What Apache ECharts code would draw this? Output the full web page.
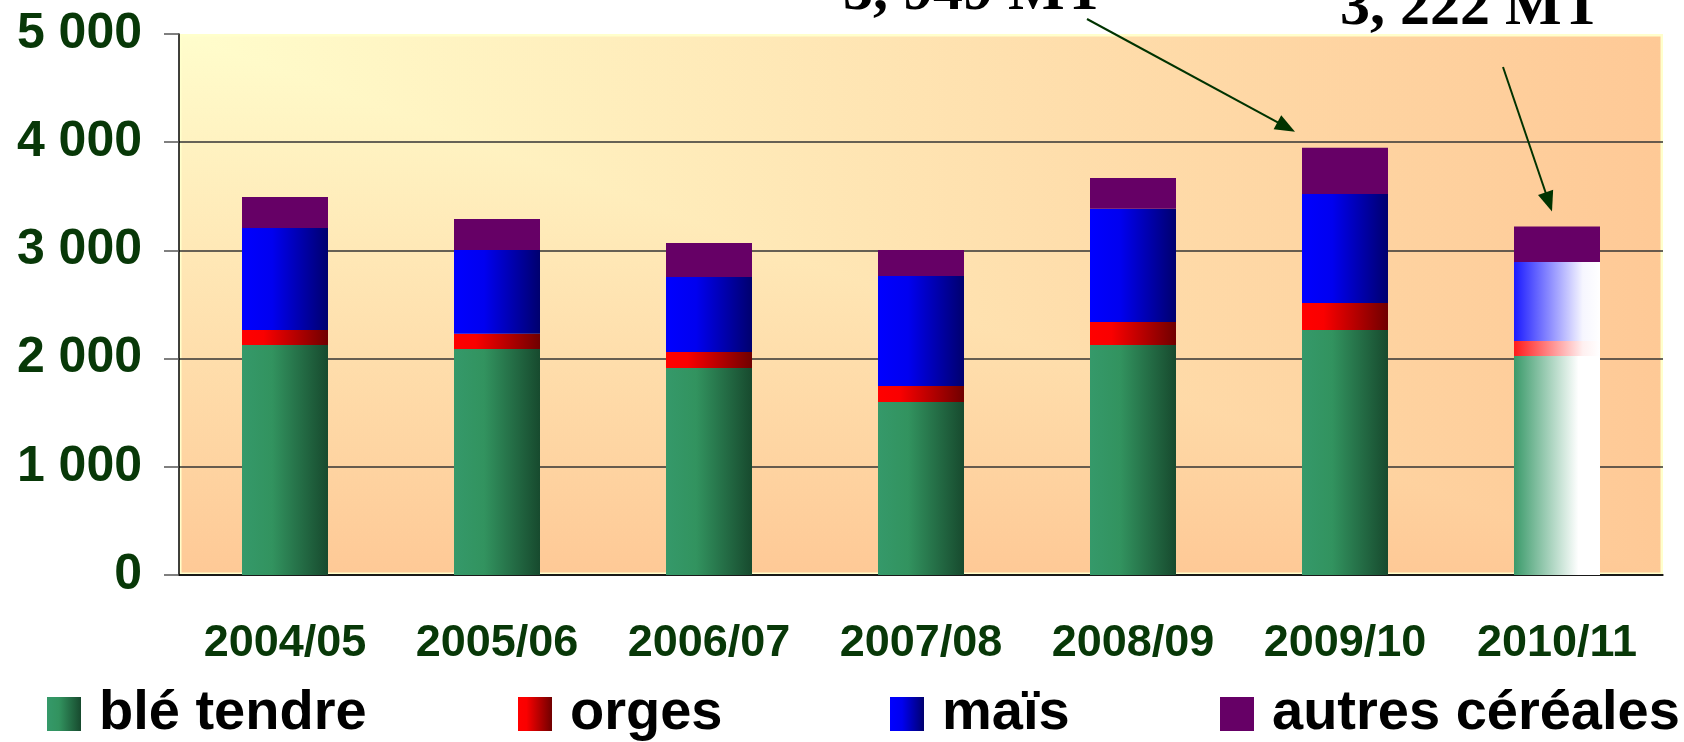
<!DOCTYPE html>
<html>
<head>
<meta charset="utf-8">
<title>Production de céréales</title>
<script src="https://cdn.jsdelivr.net/npm/echarts/dist/echarts.min.js"></script>
<style>
  html, body { margin: 0; padding: 0; background: #fff; }
  #main { width: 1684px; height: 742px; }
</style>
</head>
<body>
<div id="main"></div>
<script>
// campagnes (axe x)
const campagnes = ["2004/05", "2005/06", "2006/07", "2007/08", "2008/09", "2009/10", "2010/11"];
// production par céréale, en milliers de tonnes
const bleTendre = [2126, 2089, 1913, 1599, 2126, 2264, 2024];
const orges = [138, 141, 148, 148, 212, 250, 139];
const mais = [943, 774, 693, 1016, 1048, 1007, 730];
const autresCereales = [287, 286, 314, 241, 283, 428, 329];
// graduations de l'axe y
const yTicks = [0, 1000, 2000, 3000, 4000, 5000];
// annotations en haut du graphique
const noteTextes = ["3, 949 MT", "3, 222 MT"];
const noteIndex = [5, 6];

const chartDom = document.getElementById("main");
const chart = echarts.init(chartDom, null, { renderer: "canvas" });

// zone de tracé
const G = { left: 179, top: 34, width: 1484, height: 541 };

// dégradé "rectangulaire" du fond (jaune en haut à gauche, pêche ailleurs)
function fondDegrade(w, h) {
  const c = document.createElement("canvas");
  c.width = w;
  c.height = h;
  const ctx = c.getContext("2d");
  const c0 = "#FFFDCC", c1 = "#FEC996";
  // tout le rectangle : dégradé horizontal
  let g = ctx.createLinearGradient(0, 0, w, 0);
  g.addColorStop(0, c0);
  g.addColorStop(1, c1);
  ctx.fillStyle = g;
  ctx.fillRect(0, 0, w, h);
  // triangle bas-gauche : dégradé vertical par-dessus
  g = ctx.createLinearGradient(0, 0, 0, h);
  g.addColorStop(0, c0);
  g.addColorStop(1, c1);
  ctx.save();
  ctx.beginPath();
  ctx.moveTo(0, 0); ctx.lineTo(0, h); ctx.lineTo(w, h); ctx.closePath();
  ctx.clip();
  ctx.fillStyle = g;
  ctx.fillRect(0, 0, w, h);
  ctx.restore();
  // liseré clair
  ctx.strokeStyle = "#FFFFCC";
  ctx.lineWidth = 5;
  ctx.strokeRect(0, 0, w, h);
  return c;
}

function degrade(stops) {
  return new echarts.graphic.LinearGradient(0, 0, 1, 0,
    stops.map((s) => ({ offset: s[0], color: s[1] })));
}

const couleurs = [
  degrade([[0, "#35996A"], [0.35, "#32935F"], [1, "#174A2E"]]),
  degrade([[0, "#FF0000"], [0.25, "#FA0000"], [1, "#700000"]]),
  degrade([[0, "#0000FF"], [0.35, "#0000F0"], [1, "#00006E"]]),
  "#660066",
];
// dernière campagne (estimation) : estompée vers le blanc
const couleursEstim = [
  degrade([[0, "#3A9A6A"], [0.75, "#FFFFFF"], [1, "#FFFFFF"]]),
  degrade([[0, "#FF1A1A"], [0.8, "#FFF0F0"], [1, "#FFFFFF"]]),
  degrade([[0, "#1A1AFF"], [0.8, "#F6F6FF"], [1, "#FFFFFF"]]),
  "#660066",
];

const noms = ["blé tendre", "orges", "maïs", "autres céréales"];
const valeurs = [bleTendre, orges, mais, autresCereales];
const legendLeft = [47, 518, 890, 1220];

const series = noms.map((nom, k) => ({
  name: nom,
  type: "bar",
  stack: "total",
  barWidth: 86,
  itemStyle: { color: couleurs[k] },
  emphasis: { disabled: true },
  data: valeurs[k].map((v, i) =>
    i === campagnes.length - 1 ? { value: v, itemStyle: { color: couleursEstim[k] } } : v
  ),
}));

const legends = noms.map((nom, k) => ({
  data: [nom],
  left: legendLeft[k],
  top: 686,
  padding: 0,
  icon: "rect",
  itemWidth: 34,
  itemHeight: 34,
  selectedMode: false,
  textStyle: {
    fontFamily: "Liberation Sans, Arial, sans-serif",
    fontWeight: "bold",
    fontSize: 56,
    lineHeight: 56,
    color: "#000",
    padding: [0, 0, 0, 13],
  },
}));

const option = {
  animation: false,
  backgroundColor: "#fff",
  grid: {
    left: G.left,
    top: G.top,
    width: G.width,
    height: G.height,
  },
  legend: legends,
  xAxis: {
    type: "category",
    data: campagnes,
    axisLine: { lineStyle: { color: "#000", width: 1.5 } },
    axisTick: { length: 16, lineStyle: { color: "#555", width: 1.5 } },
    axisLabel: {
      margin: 46,
      fontFamily: "Liberation Sans, Arial, sans-serif",
      fontWeight: "bold",
      fontSize: 45,
      lineHeight: 45,
      color: "#083808",
    },
  },
  yAxis: {
    type: "value",
    min: yTicks[0],
    max: yTicks[yTicks.length - 1],
    interval: yTicks[1] - yTicks[0],
    axisLine: { show: true, lineStyle: { color: "#000", width: 1.5 } },
    axisTick: { show: true, length: 15, lineStyle: { color: "#555", width: 1.5 } },
    splitLine: { show: true, showMaxLine: false, lineStyle: { color: "#333", width: 1.5 } },
    axisLabel: {
      margin: 37,
      fontFamily: "Liberation Sans, Arial, sans-serif",
      fontWeight: "bold",
      fontSize: 50,
      color: "#083808",
      formatter: (v) => String(v).replace(/\B(?=(\d{3})+(?!\d))/g, " "),
    },
  },
  series: series,
};

chart.setOption(option);

// fond de la zone de tracé + annotations (flèches vers le total)
const totaux = campagnes.map((c, i) => valeurs.reduce((s, arr) => s + arr[i], 0));
const noteLayout = [
  { textX: 843, textY: -7, from: [1087, 19], tipDx: -50, tipDy: -16 },
  { textX: 1340, textY: 8, from: [1503, 67], tipDx: -5, tipDy: -15 },
];
const elements = [
  {
    type: "image",
    left: G.left,
    top: G.top,
    z: -10,
    silent: true,
    style: { image: fondDegrade(G.width, G.height), width: G.width, height: G.height },
  },
];
noteTextes.forEach((txt, k) => {
  const i = noteIndex[k];
  const top = chart.convertToPixel({ xAxisIndex: 0, yAxisIndex: 0 }, [campagnes[i], totaux[i]]);
  const L = noteLayout[k];
  const tip = [top[0] + L.tipDx, top[1] + L.tipDy];
  const dx = tip[0] - L.from[0], dy = tip[1] - L.from[1];
  const len = Math.sqrt(dx * dx + dy * dy);
  const ux = dx / len, uy = dy / len;
  const head = 20, half = 8;
  const base = [tip[0] - ux * head, tip[1] - uy * head];
  elements.push({
    type: "line",
    z: 50,
    silent: true,
    shape: { x1: L.from[0], y1: L.from[1], x2: base[0] + ux * 4, y2: base[1] + uy * 4 },
    style: { stroke: "#003300", lineWidth: 2 },
  });
  elements.push({
    type: "polygon",
    z: 50,
    silent: true,
    shape: {
      points: [
        tip,
        [base[0] - uy * half, base[1] + ux * half],
        [base[0] + uy * half, base[1] - ux * half],
      ],
    },
    style: { fill: "#003300" },
  });
  elements.push({
    type: "text",
    z: 50,
    silent: true,
    x: L.textX,
    y: L.textY,
    style: {
      text: txt,
      font: 'bold 60px "Liberation Serif", "Times New Roman", serif',
      fill: "#000",
      align: "left",
      verticalAlign: "middle",
    },
  });
});
chart.setOption({ graphic: { elements: elements } });
</script>
</body>
</html>
